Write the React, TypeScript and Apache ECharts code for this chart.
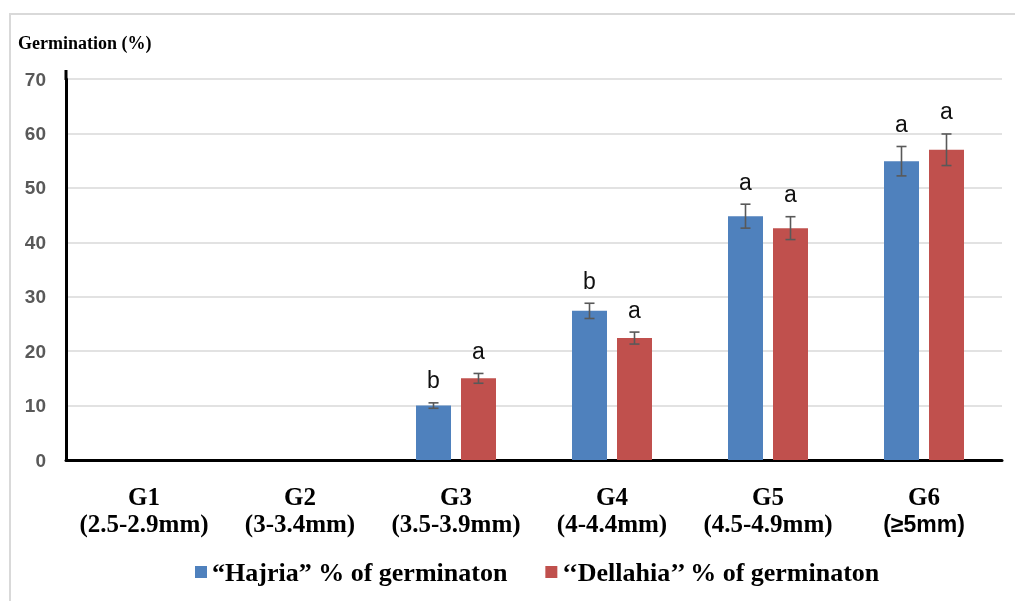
import React, { useEffect, useRef } from 'react';
import * as echarts from 'echarts';

const categories = ['G1', 'G2', 'G3', 'G4', 'G5', 'G6'];
const ranges = ['(2.5-2.9mm)', '(3-3.4mm)', '(3.5-3.9mm)', '(4-4.4mm)', '(4.5-4.9mm)', '(≥5mm)'];
const seriesNames = ['\u201CHajria\u201D % of germinaton', '\u2018\u2018Dellahia\u2019\u2019 % of germinaton'];
const hajria: (number | null)[] = [null, null, 10, 27.4, 44.8, 54.9];
const hajriaErr: (number | null)[] = [null, null, 0.5, 1.4, 2.2, 2.7];
const hajriaLetters = ['', '', 'b', 'b', 'a', 'a'];
const dellahia: (number | null)[] = [null, null, 15, 22.4, 42.6, 57];
const dellahiaErr: (number | null)[] = [null, null, 0.9, 1.1, 2.1, 2.9];
const dellahiaLetters = ['', '', 'a', 'a', 'a', 'a'];
const yMin = 0;
const yMax = 70;
const yInterval = 10;

const SERIF = 'Liberation Serif';
const SANS = 'Liberation Sans';

const BAR_W = 35;
const BAR_GAP_PX = 10;
const OFFSET = (BAR_W + BAR_GAP_PX) / 2;

function errSeries(vals: (number | null)[], errs: (number | null)[], letters: string[], side: number) {
  const data = vals
    .map((v, i) => (v == null ? null : [i, v, errs[i] as number]))
    .filter((d) => d !== null);
  return {
    type: 'custom',
    z: 5,
    silent: true,
    encode: { x: 0, y: 1 },
    data,
    renderItem: (params: any, api: any) => {
      const i = api.value(0);
      const v = api.value(1);
      const e = api.value(2);
      const c = api.coord([i, v]);
      const x = c[0] + side * OFFSET;
      const yTop = api.coord([i, v + e])[1];
      const yBot = api.coord([i, v - e])[1];
      const st = { stroke: '#595959', lineWidth: 1.6 };
      return {
        type: 'group',
        children: [
          { type: 'line', shape: { x1: x, y1: yTop, x2: x, y2: yBot }, style: st },
          { type: 'line', shape: { x1: x - 5, y1: yTop, x2: x + 5, y2: yTop }, style: st },
          { type: 'line', shape: { x1: x - 5, y1: yBot, x2: x + 5, y2: yBot }, style: st },
          {
            type: 'text',
            style: {
              text: letters[i],
              x,
              y: yTop - 11,
              align: 'center',
              verticalAlign: 'bottom',
              fontSize: 23,
              fontFamily: SANS,
              fill: '#111',
            },
          },
        ],
      };
    },
  };
}

export default function App() {
  const ref = useRef<HTMLDivElement>(null);
  useEffect(() => {
    if (!ref.current) return;
    const chart = echarts.init(ref.current, undefined, { renderer: 'svg' });
    chart.setOption({
      animation: false,
      textStyle: { fontFamily: SERIF },
      graphic: [
        {
          type: 'rect',
          shape: { x: 10, y: 14, width: 1010, height: 600 },
          style: { fill: 'none', stroke: '#d9d9d9', lineWidth: 2 },
          silent: true,
        },
        {
          type: 'line',
          shape: { x1: 66, y1: 70, x2: 66, y2: 80 },
          style: { stroke: '#000', lineWidth: 3 },
          silent: true,
        },
        {
          type: 'text',
          style: {
            text: 'Germination (%)',
            x: 18,
            y: 34,
            fontSize: 18,
            fontWeight: 'bold',
            fontFamily: SERIF,
            fill: '#000',
          },
        },
      ],
      legend: {
        data: seriesNames,
        left: 190,
        top: 554,
        icon: 'rect',
        itemWidth: 12,
        itemHeight: 12,
        itemGap: 38,
        textStyle: {
          fontSize: 26,
          fontWeight: 'bold',
          fontFamily: SERIF,
          color: '#000',
        },
      },
      grid: { left: 66, right: 13, top: 79, bottom: 141, containLabel: false },
      xAxis: {
        type: 'category',
        data: categories,
        axisLine: { lineStyle: { color: '#000', width: 3 } },
        axisTick: { show: false },
        axisLabel: {
          margin: 23,
          interval: 0,
          fontFamily: SERIF,
          fontWeight: 'bold',
          fontSize: 25,
          formatter: (val: string, idx: number) => {
            const r = ranges[idx];
            const style = r.indexOf('≥') >= 0 ? 's' : 't';
            return `{t|${val}}\n{${style}|${r}}`;
          },
          rich: {
            t: { fontSize: 25, fontWeight: 'bold', fontFamily: SERIF, color: '#000', lineHeight: 27 },
            s: { fontSize: 23, fontWeight: 'bold', fontFamily: SANS, color: '#000', lineHeight: 27 },
          },
        },
      },
      yAxis: {
        type: 'value',
        min: yMin,
        max: yMax,
        interval: yInterval,
        axisLine: { show: true, lineStyle: { color: '#000', width: 3 } },
        axisTick: { show: false },
        splitLine: { lineStyle: { color: '#d9d9d9', width: 1.5 } },
        axisLabel: {
          margin: 20,
          fontSize: 19,
          fontWeight: 'bold',
          fontFamily: SANS,
          color: '#595959',
        },
      },
      series: [
        {
          name: seriesNames[0],
          type: 'bar',
          data: hajria,
          barWidth: BAR_W,
          barGap: `${(BAR_GAP_PX / BAR_W) * 100}%`,
          itemStyle: { color: '#4F81BD' },
        },
        {
          name: seriesNames[1],
          type: 'bar',
          data: dellahia,
          barWidth: BAR_W,
          itemStyle: { color: '#C0504D' },
        },
        errSeries(hajria, hajriaErr, hajriaLetters, -1),
        errSeries(dellahia, dellahiaErr, dellahiaLetters, 1),
      ],
    });
    return () => chart.dispose();
  }, []);
  return (
    <div
      ref={ref}
      style={{ position: 'fixed', left: 0, top: 0, width: 1015, height: 601 }}
    />
  );
}
